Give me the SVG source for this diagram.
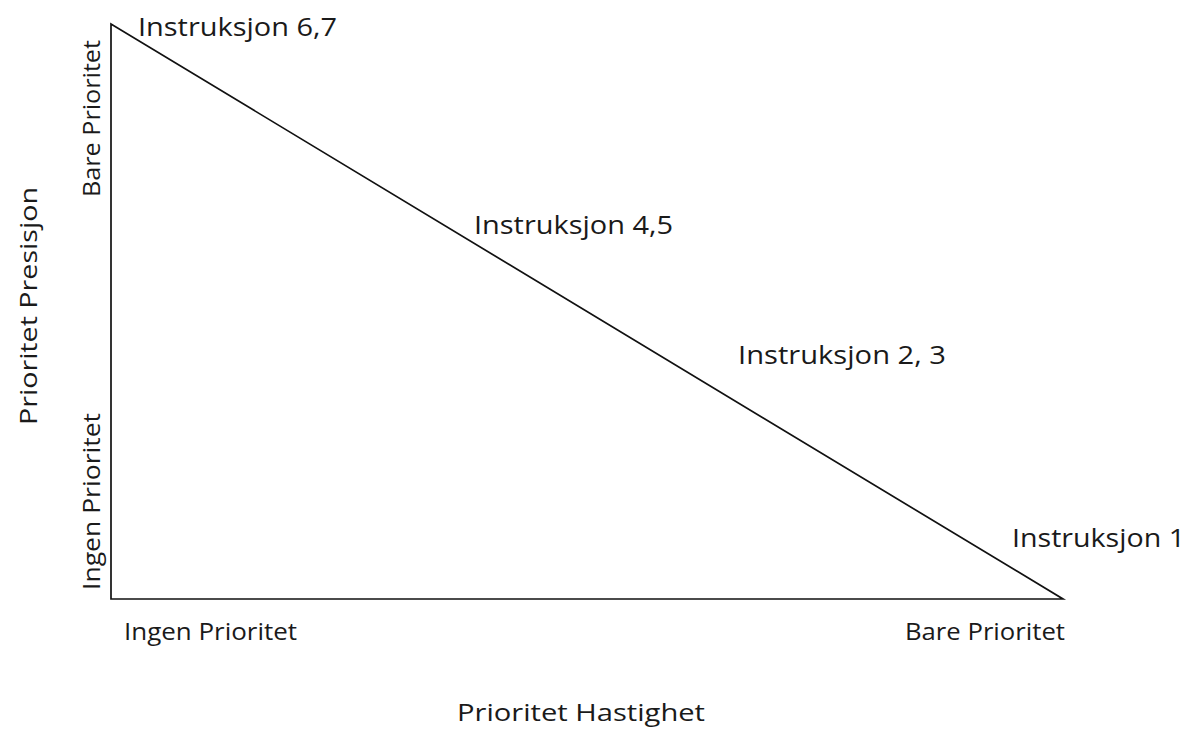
<svg xmlns="http://www.w3.org/2000/svg" width="1193" height="730" viewBox="0 0 1193 730">
<style>
text{font-family:"Open Sans","Liberation Sans",sans-serif;fill:#1a1a1a;}
.lbl{font-size:25px;}
.ax{font-size:24px;}
.sm{font-size:23px;}
.line{fill:none;stroke:#111;stroke-width:1.7;}
</style>
<rect width="1193" height="730" fill="#fff"/>
<g id="connectors">
<path class="line" d="M111,24 L111,599 L1063,599 Z" stroke-linejoin="miter"/>
</g>
<g id="label-instr67"><text class="lbl" x="138" y="36" textLength="199" lengthAdjust="spacingAndGlyphs">Instruksjon 6,7</text></g>
<g id="label-instr45"><text class="lbl" x="474" y="234" textLength="199" lengthAdjust="spacingAndGlyphs">Instruksjon 4,5</text></g>
<g id="label-instr23"><text class="lbl" x="738" y="364" textLength="208" lengthAdjust="spacingAndGlyphs">Instruksjon 2, 3</text></g>
<g id="label-instr1"><text class="lbl" x="1012" y="547" textLength="173" lengthAdjust="spacingAndGlyphs">Instruksjon 1</text></g>
<g id="x-low"><text class="sm" x="124" y="640" textLength="173" lengthAdjust="spacingAndGlyphs">Ingen Prioritet</text></g>
<g id="x-high"><text class="sm" x="905" y="640" textLength="160" lengthAdjust="spacingAndGlyphs">Bare Prioritet</text></g>
<g id="x-title"><text class="ax" x="457" y="721" textLength="248" lengthAdjust="spacingAndGlyphs">Prioritet Hastighet</text></g>
<g id="y-title"><text class="ax" transform="translate(37,425) rotate(-90)" textLength="238" lengthAdjust="spacingAndGlyphs">Prioritet Presisjon</text></g>
<g id="y-high"><text class="sm" transform="translate(100,197) rotate(-90)" textLength="157" lengthAdjust="spacingAndGlyphs">Bare Prioritet</text></g>
<g id="y-low"><text class="sm" transform="translate(100,590) rotate(-90)" textLength="177" lengthAdjust="spacingAndGlyphs">Ingen Prioritet</text></g>
</svg>
